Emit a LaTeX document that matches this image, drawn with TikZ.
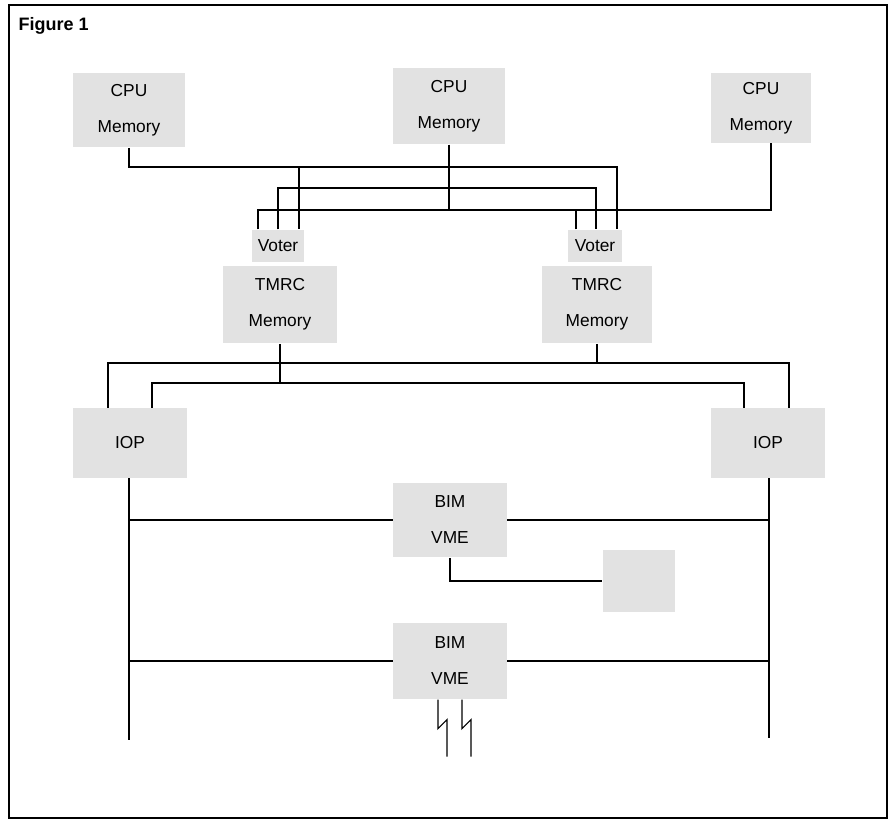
\documentclass[tikz,border=0pt]{standalone}
\usepackage{fontspec}
\setmainfont{Liberation Sans}
\usepackage{tikz}
\usetikzlibrary{calc,positioning}
\definecolor{stipple}{RGB}{226,226,226}

\begin{document}
\begin{tikzpicture}[x=0.75pt, y=-0.75pt, line width=0.9pt,
    box/.style={fill=stipple, inner sep=0pt, align=center, font=\fontsize{13}{27}\selectfont}]
  \useasboundingbox (0,0) rectangle (892,821);
  \draw (9,5) rectangle (887,818);
  \node[anchor=base west, inner sep=0pt, font=\fontsize{13.5}{15}\selectfont\bfseries] (title) at (18,30) {Figure 1};

  \node[box, minimum width=84pt, minimum height=56pt] (cpuA) at (129,110) {CPU\\Memory};
  \node[box, minimum width=84pt, minimum height=57pt] (cpuB) at (449,106) {CPU\\Memory};
  \node[box, minimum width=75pt, minimum height=52pt] (cpuC) at (761,108) {CPU\\Memory};

  \node[box, minimum width=39pt, minimum height=24pt] (voterA) at (278,246) {Voter};
  \node[box, minimum width=40pt, minimum height=24pt] (voterB) at (595,246) {Voter};
  \node[box, minimum width=85pt, minimum height=58pt, below=2pt of voterA, xshift=1.5pt] (tmrcA) {TMRC\\Memory};
  \node[box, minimum width=83pt, minimum height=58pt, below=2pt of voterB, xshift=1.5pt] (tmrcB) {TMRC\\Memory};

  \node[box, minimum width=86pt, minimum height=52pt] (iopA) at (130,443) {IOP};
  \node[box, minimum width=85pt, minimum height=52pt] (iopB) at (768,443) {IOP};

  \node[box, minimum width=85pt, minimum height=56pt] (bimA) at (450,520) {BIM\\VME};
  \node[box, minimum width=54pt, minimum height=46pt] (aux) at (639,581) {};
  \node[box, minimum width=85pt, minimum height=57pt] (bimB) at (450,661) {BIM\\VME};

  \coordinate (busA) at (0,167);
  \coordinate (busB) at (0,188);
  \coordinate (busC) at (0,210);
  \coordinate (busD) at (0,363);
  \coordinate (busE) at (0,383);
  \coordinate (lowY) at (0,740);

  \coordinate (inA1) at ($(voterA.north)+(-20,0)$);
  \coordinate (inA2) at (voterA.north);
  \coordinate (inA3) at ($(voterA.north)+(21,0)$);
  \coordinate (inB1) at ($(voterB.north)+(-19,0)$);
  \coordinate (inB2) at ($(voterB.north)+(1,0)$);
  \coordinate (inB3) at ($(voterB.north)+(22,0)$);
  \coordinate (outC) at ($(cpuC.south)+(10,0)$);

  \draw (cpuA.south) |- (inB3 |- busA) -- (inB3);
  \draw (inA3 |- busA) -- (inA3);
  \draw (inA2) |- (inB2 |- busB) -- (inB2);
  \draw (inA1) |- (outC |- busC) -- (outC);
  \draw (cpuB.south) -- (cpuB.south |- busC);
  \draw (inB1) -- (inB1 |- busC);

  \coordinate (ioA1) at ($(iopA.north)+(-22,0)$);
  \coordinate (ioA2) at ($(iopA.north)+(22,0)$);
  \coordinate (ioB1) at ($(iopB.north)+(-24,0)$);
  \coordinate (ioB2) at ($(iopB.north)+(21,0)$);

  \draw (ioA1) |- (ioB2 |- busD) -- (ioB2);
  \draw (ioA2) |- (ioB1 |- busE) -- (ioB1);
  \draw (tmrcA.south) -- (tmrcA.south |- busE);
  \draw (tmrcB.south) -- (tmrcB.south |- busD);

  \coordinate (endA) at ($(iopA.south |- lowY)+(-1,0)$);
  \coordinate (endB) at ($(iopB.south |- lowY)+(1,-2)$);
  \draw (endA |- iopA.south) -- (endA);
  \draw (endB |- iopB.south) -- (endB);

  \draw (bimA.west) -- (bimA.west -| endA);
  \draw (bimA.east) -- (bimA.east -| endB);
  \draw (bimA.south) |- (aux.west);
  \draw (bimB.west) -- (bimB.west -| endA);
  \draw (bimB.east) -- (bimB.east -| endB);

  \foreach \dx in {-12,12}
    \draw ($(bimB.south)+(\dx,0)$) -- ++(0,29) -- ++(9,-9) -- ++(0,37);
\end{tikzpicture}
\end{document}
